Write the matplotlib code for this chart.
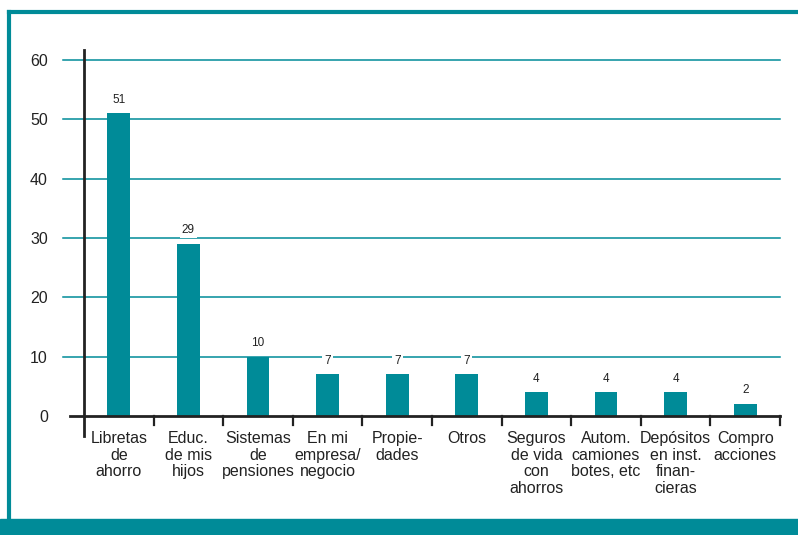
import numpy as np
import matplotlib.pyplot as plt
from matplotlib.lines import Line2D
from matplotlib.patches import Rectangle

# datos
categorias = ["Libretas\nde\nahorro", "Educ.\nde mis\nhijos", "Sistemas\nde\npensiones",
              "En mi\nempresa/\nnegocio", "Propie-\ndades", "Otros",
              "Seguros\nde vida\ncon\nahorros", "Autom.\ncamiones\nbotes, etc",
              "Depósitos\nen inst.\nfinan-\ncieras", "Compro\nacciones"]
valores = [51, 29, 10, 7, 7, 7, 4, 4, 4, 2]
yticks = [0, 10, 20, 30, 40, 50, 60]

teal = "#008B98"
plt.rcParams['font.family'] = ['Liberation Sans Narrow', 'Liberation Sans', 'DejaVu Sans']

fig = plt.figure(figsize=(7.98, 5.35), dpi=100)
ax = fig.add_axes([84/798, 1 - 416/535, (780 - 84)/798, (416 - 50)/535])

x = np.arange(len(valores)) + 0.5
ax.set_xlim(0, len(valores))
ax.set_ylim(0, 61.7)

# lineas de la cuadricula
for t in yticks[1:]:
    ax.plot([-0.3, len(valores)], [t, t], color=teal, lw=1.1, clip_on=False, zorder=1)

ax.bar(x, valores, width=0.33, color=teal, zorder=2)
for xi, v in zip(x, valores):
    ax.text(xi, v + 1.3, str(v), ha='center', va='bottom', fontsize=8.5, color='#222222',
            bbox=dict(facecolor='white', edgecolor='none', pad=1.5), zorder=3)

for s in ax.spines.values():
    s.set_visible(False)

# ejes
ax.plot([-0.2, len(valores)], [0, 0], color='#222222', lw=2, clip_on=False, zorder=4)
ax.plot([0, 0], [-3.4, 61.7], color='#222222', lw=2, clip_on=False, zorder=4)
for b in range(1, len(valores) + 1):
    ax.plot([b, b], [0, -1.6], color='#222222', lw=1.6, clip_on=False, zorder=4)

ax.set_yticks(yticks)
ax.set_yticklabels([str(t) for t in yticks], fontsize=11.5, color='#222222')
ax.tick_params(axis='y', length=0, pad=26)
ax.set_xticks(x)
ax.set_xticklabels(categorias, fontsize=11.5, linespacing=1.12, color='#222222', va='top')
ax.tick_params(axis='x', length=0, pad=11)

# marco
fig.add_artist(Line2D([9/798, 1], [1 - 12/535, 1 - 12/535], color=teal, lw=3))
fig.add_artist(Line2D([9/798, 9/798], [1 - 12/535, 16/535], color=teal, lw=3))
fig.add_artist(Rectangle((0, 0), 1, 16/535, color=teal, transform=fig.transFigure))

fig.savefig("out.png", dpi=100)
